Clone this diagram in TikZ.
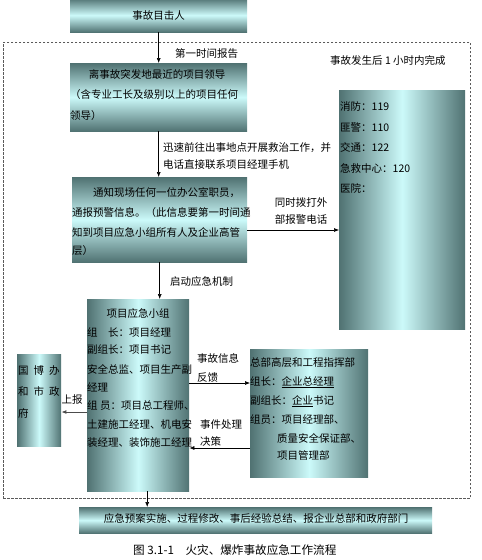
\documentclass[tikz,border=0pt]{standalone}
\usepackage{fontspec}
\setmainfont{Noto Sans CJK SC}
\usetikzlibrary{arrows.meta,calc}
\definecolor{dk}{RGB}{80,114,114}
\definecolor{lt}{RGB}{204,250,250}
\definecolor{dash}{RGB}{90,90,90}
\newcommand{\fs}{\fontsize{10.5}{12}\selectfont}
\tikzset{
  vbox/.style={inner sep=0, top color=dk, bottom color=dk, middle color=lt, anchor=north west},
  hbox/.style={inner sep=0, left color=dk, right color=dk, middle color=lt, anchor=north west},
  txt/.style={inner sep=0, font=\fs, anchor=west},
  ctxt/.style={inner sep=0, font=\fs, anchor=center},
  arr/.style={-{Latex[length=5pt,width=4pt]}, line width=0.6pt},
}
\begin{document}
\begin{tikzpicture}[x=1pt,y=-1pt]
\useasboundingbox (0,0) rectangle (482,560);
% dashed frame
\node[draw=dash, dashed, dash pattern=on 2.5pt off 1.5pt, line width=0.8pt, inner sep=0, minimum width=467pt, minimum height=456pt, anchor=north west] (frame) at (3,42) {};
% boxes
\node[vbox, minimum width=177pt, minimum height=34pt] (witness) at (70,-2) {};
\node[ctxt] (witnesst) at (158.5,16) {事故目击人};
\node[vbox, minimum width=177pt, minimum height=68pt] (lead) at (70,63) {};
\node[vbox, minimum width=175pt, minimum height=85pt] (notify) at (72,177) {};
\node[hbox, minimum width=126pt, minimum height=239pt] (phone) at (339,90) {};
\node[hbox, minimum width=102pt, minimum height=192pt] (proj) at (87,299) {};
\node[hbox, minimum width=44pt, minimum height=92pt] (gov) at (17,354) {};
\node[hbox, minimum width=118pt, minimum height=128pt] (hq) at (250,349) {};
\node[vbox, minimum width=353pt, minimum height=26pt] (final) at (79,507) {};
% texts
\node[txt] (t1) at (175,54) {第一时间报告};
\node[txt] (t2) at (330,60) {事故发生后 1 小时内完成};
\node[ctxt] (l1) at (157,74) {离事故突发地最近的项目领导};
\node[txt] (l2) at (70,95) {（含专业工长及级别以上的项目任何};
\node[txt] (l3) at (70,116) {领导）};
\node[txt] (t3) at (163,148) {迅速前往出事地点开展救治工作，并};
\node[txt] (t4) at (163,165) {电话直接联系项目经理手机};
\node[txt] (n1) at (93,193) {通知现场任何一位办公室职员，};
\node[txt] (n2) at (72,213) {通报预警信息。（此信息要第一时间通};
\node[txt] (n3) at (72,232) {知到项目应急小组所有人及企业高管};
\node[txt] (n4) at (72,251) {层）};
\node[ctxt] (t5) at (301,203) {同时拨打外};
\node[ctxt] (t6) at (301,219) {部报警电话};
\node[txt] (p1) at (340,107) {消防：119};
\node[txt] (p2) at (340,127) {匪警：110};
\node[txt] (p3) at (340,147) {交通：122};
\node[txt] (p4) at (340,168) {急救中心：120};
\node[txt] (p5) at (340,188) {医院：};
\node[txt] (t7) at (170,282) {启动应急机制};
\node[ctxt] (g1) at (138,313) {项目应急小组};
\node[txt] (g2) at (87,332) {组　长：项目经理};
\node[txt] (g3) at (87,350) {副组长：项目书记};
\node[txt] (g4) at (87,369) {安全总监、项目生产副};
\node[txt] (g5) at (87,387) {经理};
\node[txt] (g6) at (87,406) {组 员：项目总工程师、};
\node[txt] (g7) at (87,424) {土建施工经理、机电安};
\node[txt] (g8) at (87,443) {装经理、装饰施工经理};
\node[txt] (v1) at (18,371) {国\hspace{5pt}博\hspace{5pt}办};
\node[txt] (v2) at (18,391) {和\hspace{5pt}市\hspace{5pt}政};
\node[txt] (v3) at (18,413) {府};
\node[ctxt] (t8) at (72,400) {上报};
\node[txt] (h1) at (250,363) {总部高层和工程指挥部};
\node[txt] (h2) at (250,382) {组长：\underline{企业总经理}};
\node[txt] (h3) at (250,401) {副组长：\underline{企业}书记};
\node[txt] (h4) at (250,420) {组员：项目经理部、};
\node[txt] (h5) at (277,438) {质量安全保证部、};
\node[txt] (h6) at (277,455) {项目管理部};
\node[txt] (t9) at (197,358) {事故信息};
\node[txt] (t10) at (197,378) {反馈};
\node[txt] (t11) at (200,425) {事件处理};
\node[txt] (t12) at (200,441) {决策};
\node[ctxt] (f1) at (256,518) {应急预案实施、过程修改、事后经验总结、报企业总部和政府部门};
\node[inner sep=0, font=\fontsize{11.6}{13}\selectfont, anchor=west] (cap) at (133,550) {图 3.1-1　火灾、爆炸事故应急工作流程};
% arrows
\draw[arr] (witness.south) -- (lead.north);
\draw[arr] (lead.south) -- (lead.south |- notify.north);
\draw[arr] (notify.east |- 0,230) -- (phone.west |- 0,230);
\draw[arr] (notify.south) -- (notify.south |- proj.north);
\draw[arr, line width=0.9pt, draw=black!70] (proj.west |- 0,412) -- (gov.east |- 0,412);
\draw[arr] (proj.east |- 0,383) -- (hq.west |- 0,383);
\draw[arr] (hq.west |- 0,448) -- (proj.east |- 0,448);
\draw[arr] ([xshift=9pt]proj.south) -- ([xshift=9pt]proj.south |- final.north);
\end{tikzpicture}
\end{document}
